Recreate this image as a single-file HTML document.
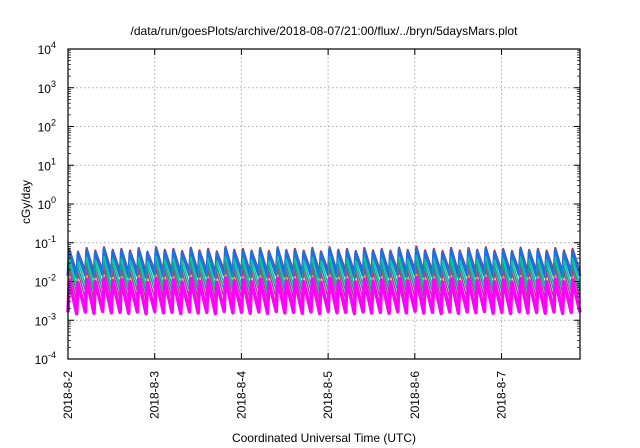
<!DOCTYPE html>
<html><head><meta charset="utf-8"><style>
body{margin:0;background:#fff}
svg{display:block;font-family:"Liberation Sans",sans-serif}
</style></head><body>
<svg id="chart" width="640" height="448" viewBox="0 0 640 448" xmlns="http://www.w3.org/2000/svg">
<rect width="640" height="448" fill="#fff"/>
<text x="324" y="35" font-size="12" text-anchor="middle">/data/run/goesPlots/archive/2018-08-07/21:00/flux/../bryn/5daysMars.plot</text>
<g id="grid"></g>
<g id="series"></g>
<g id="axes"></g>
<text transform="translate(30,202) rotate(-90)" font-size="12" text-anchor="middle">cGy/day</text>
<text x="324" y="442" font-size="12" text-anchor="middle">Coordinated Universal Time (UTC)</text>
</svg>
<script>
const dayLabels=["2018-8-2","2018-8-3","2018-8-4","2018-8-5","2018-8-6","2018-8-7"];
const yExponents=[-4,-3,-2,-1,0,1,2,3,4];
const cyclePeakFactor=[1.0,0.85,1.05,0.9,1.1,0.95,1.0,0.9,1.05,0.85,1.1,0.95,1.0,0.88,1.08,0.92,1.0,0.86,1.12,0.95,1.0,0.9,1.05,0.88,1.1,0.94,1.0,0.9,1.06,0.86,1.1,0.95,1.0,0.88,1.05,0.92,1.0,0.9,1.08,0.94,1.15,0.92,1.0,0.88,1.06,0.9,1.05,0.95,1.1,0.9,1.0,0.88,1.08,0.94,1.0,0.9,1.05,0.9,1.0];
const seriesNames=["red","blue","green","teal","purple","yellow","magenta"];
const seriesPeak=[0.07,0.062,0.04,0.028,0.02,0.013,0.011];
const seriesTrough=[0.018,0.014,0.008,0.0055,0.0035,0.0022,0.0016];
const seriesColor=["#e41a1c","#1f6fe0","#00c8a0","#10a090","#9a4a8a","#e0c000","#ff00ff"];
const seriesWidth=[2,3,1.5,1.5,1.5,1.5,3.5];
const totalDays=5.905;

const L=68,R=580,T=49,B=359;
const NS="http://www.w3.org/2000/svg";
function xs(d){return L+(d/totalDays)*(R-L);}
function ys(v){return B-(Math.log10(v)+4)/8*(B-T);}
function mk(tag,attrs,parent){const e=document.createElementNS(NS,tag);for(const k in attrs)e.setAttribute(k,attrs[k]);parent.appendChild(e);return e;}
const grid=document.getElementById('grid'),axes=document.getElementById('axes'),ser=document.getElementById('series');

yExponents.forEach((p,i)=>{
  const y=ys(Math.pow(10,p));
  if(i>0&&i<yExponents.length-1){const g=mk('line',{x1:L,x2:R,y1:y,y2:y,stroke:'#aaa','stroke-dasharray':'1.5,2.5','stroke-width':1},grid);
  
  }
  const t=mk('line',{x1:L,x2:L+6,y1:y,y2:y,stroke:'#000'},axes);
  
  
  const t2=mk('line',{x1:R,x2:R-6,y1:y,y2:y,stroke:'#000'},axes);
  
  
  const lab=mk('text',{x:L-12,y:y+5,'font-size':12,'text-anchor':'end'},axes);
  
  
  lab.textContent='10';
  const sup=mk('tspan',{dy:-6,'font-size':9},lab);sup.textContent=String(p);
  if(i<yExponents.length-1){for(let m=2;m<10;m++){const ym=ys(m*Math.pow(10,p));
    mk('line',{x1:L,x2:L+3,y1:ym,y2:ym,stroke:'#000','stroke-width':0.7},axes);
    mk('line',{x1:R,x2:R-3,y1:ym,y2:ym,stroke:'#000','stroke-width':0.7},axes);}}
});
dayLabels.forEach((d,i)=>{
  const x=xs(i);
  if(i>0){const g=mk('line',{x1:x,x2:x,y1:T,y2:B,stroke:'#aaa','stroke-dasharray':'1.5,2.5'},grid);
  
  }
  mk('line',{x1:x,x2:x,y1:B,y2:B-6,stroke:'#000'},axes);
  mk('line',{x1:x,x2:x,y1:T,y2:T+6,stroke:'#000'},axes);
  const lab=mk('text',{transform:`translate(${x+4},${B+12}) rotate(-90)`,'font-size':12,'text-anchor':'end'},axes);
  
  
  lab.textContent=d;
});
const frame=mk('rect',{x:L,y:T,width:R-L,height:B-T,fill:'none',stroke:'#000','stroke-width':1.2},axes);



const period=totalDays/cyclePeakFactor.length;
for(let s=0;s<seriesNames.length;s++){
  let pts=[];
  cyclePeakFactor.forEach((f,c)=>{
    const d0=c*period;
    pts.push([xs(d0),ys(seriesTrough[s]*Math.sqrt(f))]);
    pts.push([xs(d0+period*0.15),ys(seriesPeak[s]*f)]);
  });
  pts.push([xs(totalDays),ys(seriesTrough[s])]);
  const p=mk('polyline',{points:pts.map(q=>q[0].toFixed(1)+','+q[1].toFixed(1)).join(' '),fill:'none',stroke:seriesColor[s],'stroke-width':seriesWidth[s],'stroke-linejoin':'round'},ser);
  
  
}
</script>
</body></html>
